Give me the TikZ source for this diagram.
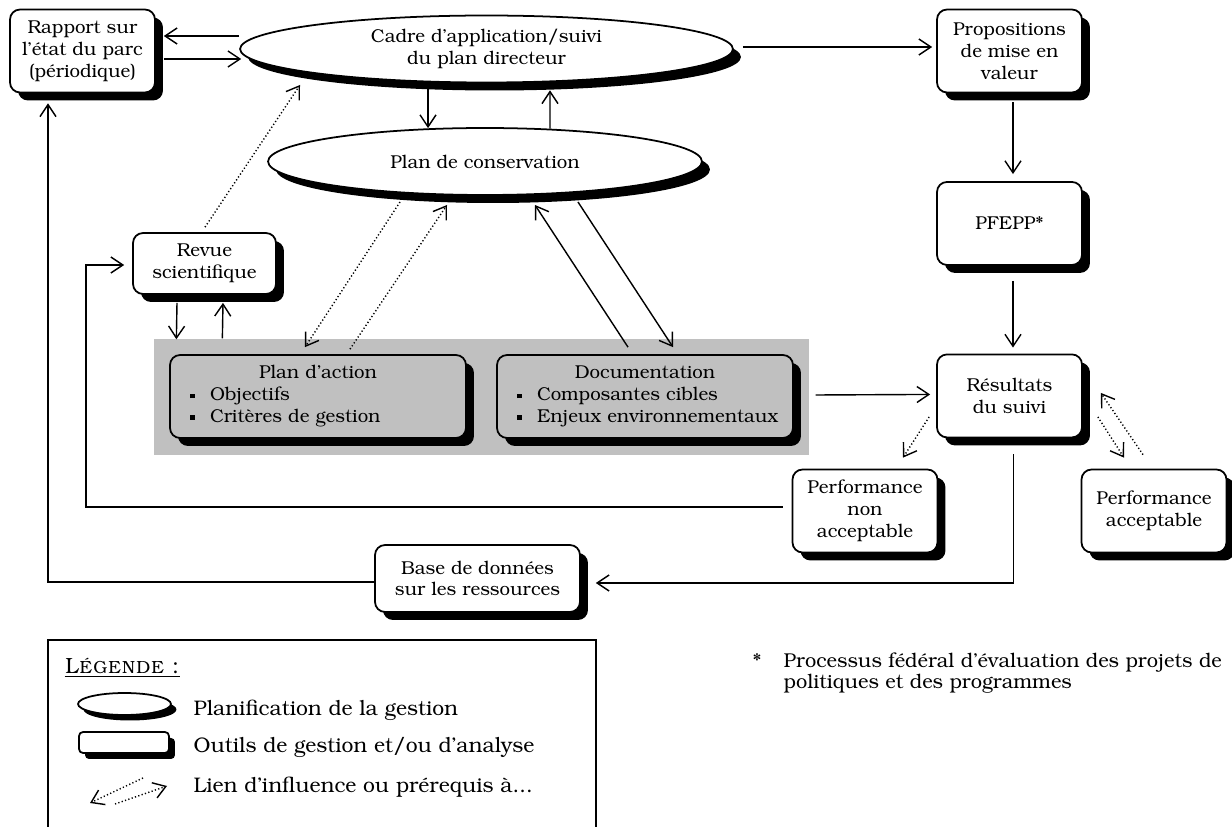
\documentclass[tikz,border=0pt]{standalone}
\usepackage[T1]{fontenc}
\usepackage{bookman}
\usetikzlibrary{shapes.geometric,arrows.meta,shadows,calc,positioning}

\definecolor{grisfond}{RGB}{192,192,192}
\newcommand{\puce}{\makebox[0.5cm][l]{\hspace{0.1cm}\rule[0.3ex]{0.09cm}{0.09cm}}}

\tikzset{
  ombre/.style={drop shadow={fill=black,opacity=1,shadow xshift=#1,shadow yshift=-#1}},
  ombre/.default=0.16cm,
  boite/.style={draw,rounded corners=0.2cm,fill=white,line width=1pt,align=center,inner sep=0pt},
  outil/.style={boite,minimum width=2.9cm,minimum height=1.66cm,ombre},
  liste/.style={outil,fill=grisfond,minimum width=5.92cm,text width=5.32cm,align=left},
  bulle/.style={draw,ellipse,fill=white,line width=1pt,align=center,inner sep=0pt},
  planif/.style={bulle,ombre},
  lien/.style={dash pattern=on 0.7pt off 1.3pt},
  legtexte/.style={anchor=west,inner sep=0pt,font=\fontsize{12}{14}\selectfont},
}

\begin{document}
\begin{tikzpicture}[->,x=0.02cm,y=-0.02cm,node distance=3.45cm,line width=0.8pt,
  >={Straight Barb[length=2.4mm,width=3.2mm]},font=\fontsize{10.6}{12.5}\selectfont]
\useasboundingbox (0,0) rectangle (1232,827);

% fond gris
\node[fill=grisfond,minimum width=13.1cm,minimum height=2.32cm,inner sep=0pt] (fond) at (481.5,397) {};

% plans
\node[planif,minimum width=9.86cm,minimum height=1.34cm] (cadre) at (486.5,49) {Cadre d'application/suivi\\du plan directeur};
\node[planif,minimum width=8.68cm,minimum height=1.34cm] (conserv) at (485,161.5) {Plan de conservation};

% outils
\node[outil] (rapport) at (82.5,51) {Rapport sur\\l'état du parc\\(périodique)};
\node[outil] (prop) at (1009.5,51) {Propositions\\de mise en\\valeur};
\node[outil] (pfepp) [below of=prop] {PFEPP*};
\node[outil] (resultats) [below of=pfepp] {Résultats\\du suivi};
\node[outil] (nonacc) at (865,511) {Performance\\non\\acceptable};
\node[outil] (acc) at (1154,511) {Performance\\acceptable};
\node[outil,minimum width=2.86cm,minimum height=1.22cm] (revue) at (204.5,263.5) {Revue\\scientifique};
\node[outil,minimum width=4.1cm,minimum height=1.34cm] (base) at (477.5,578.5) {Base de données\\sur les ressources};
\node[liste] (action) at (318,396.5) {\hfill Plan d'action\hfill\null\\\puce Objectifs\\\puce \mbox{Critères de gestion}};
\node[liste] (doc) at (645,396.5) {\hfill Documentation\hfill\null\\\puce \mbox{Composantes cibles}\\\puce \mbox{Enjeux environnementaux}};

% liens
\draw ($(cadre.west)+(0,-13)$) -- ($(rapport.east)+(8,-15)$);
\draw ($(rapport.east)+(8,8)$) -- ($(cadre.west)+(2,10)$);
\draw ($(cadre.south)+(-58.5,5)$) -- ($(conserv.north)+(-57,1)$);
\draw ($(conserv.north)+(65,1.5)$) -- ($(cadre.south)+(63.5,7)$);
\draw ($(cadre.east)+(9,-2)$) -- ($(prop.west)+(-4,-4)$);
\draw ($(prop.south)+(3.5,9)$) -- ($(pfepp.north)+(3.5,-7)$);
\draw ($(pfepp.south)+(3.5,15)$) -- ($(resultats.north)+(3.5,-6)$);
\draw ($(fond.east)+(6,-2)$) -- ($(resultats.west)+(-6,-1.5)$);
\draw[lien] ($(resultats.west)+(-7,21)$) -- ($(nonacc.north)+(38,-11)$);
\draw[lien] ($(resultats.east)+(15,21)$) -- ($(acc.north)+(-30,-11)$);
\draw[lien] ($(acc.north)+(-11,-14)$) -- ($(resultats.east)+(18,-3)$);
\draw ($(nonacc.west)+(-9,-4)$) -| ($(revue.west)+(-46,1.5)$) -- ($(revue.west)+(-8,1.5)$);
\draw ($(resultats.south)+(4,16)$) |- ($(base.east)+(15,4.5)$);
\draw ($(base.west)+(0,3.5)$) -| ($(rapport.south)+(-34.5,10)$);
\draw ($(revue.south)+(-27.5,8)$) -- ($(fond.north west)+(23,1)$);
\draw ($(fond.north west)+(69,0)$) -- ($(revue.south)+(18.5,8)$);
\draw[lien] ($(revue.north)+(0.5,-5)$) -- ($(cadre.center)+(-186.5,36)$);
\draw[lien] ($(conserv.center)+(-85,40.5)$) -- ($(action.north)+(-13,-7)$);
\draw[lien] ($(action.north)+(32,-5)$) -- ($(conserv.center)+(-38,43.5)$);
\draw ($(doc.north)+(-17,-7)$) -- ($(conserv.center)+(50,43.5)$);
\draw ($(conserv.center)+(93,40.5)$) -- ($(doc.north)+(28,-7)$);

% legende
\draw[-] (48,827) -- (48,640) -- (596,640) -- (596,827);
\node[legtexte,font=\fontsize{12.5}{14}\selectfont] (legende) at (64,668) {\underline{\textsc{Légende :}}};
\node[bulle,ombre=0.11cm,minimum width=1.86cm,minimum height=0.44cm] (legplan) at (124.5,704) {};
\node[boite,rounded corners=0.08cm,ombre=0.12cm,minimum width=1.8cm,minimum height=0.42cm] (legoutil) at (124,742.5) {};
\coordinate (lienA) at (143,778);
\coordinate (lienB) at (90,803);
\coordinate (lienC) at (115,804);
\coordinate (lienD) at (167,786);
\draw[lien] (lienA) -- (lienB);
\draw[lien] (lienC) -- (lienD);
\node[legtexte] (txtplan) at (193,710) {Planification de la gestion};
\node[legtexte] (txtoutil) at (193,748) {Outils de gestion et/ou d'analyse};
\node[legtexte] (txtlien) at (193,787) {Lien d'influence ou prérequis à...};

% note
\node[anchor=north west,align=left,inner sep=0pt,font=\fontsize{11.4}{12}\selectfont] (note) at (752,652) {\makebox[0.62cm][l]{*}Processus fédéral d'évaluation des projets de\\\hspace*{0.62cm}politiques et des programmes};

\end{tikzpicture}
\end{document}
